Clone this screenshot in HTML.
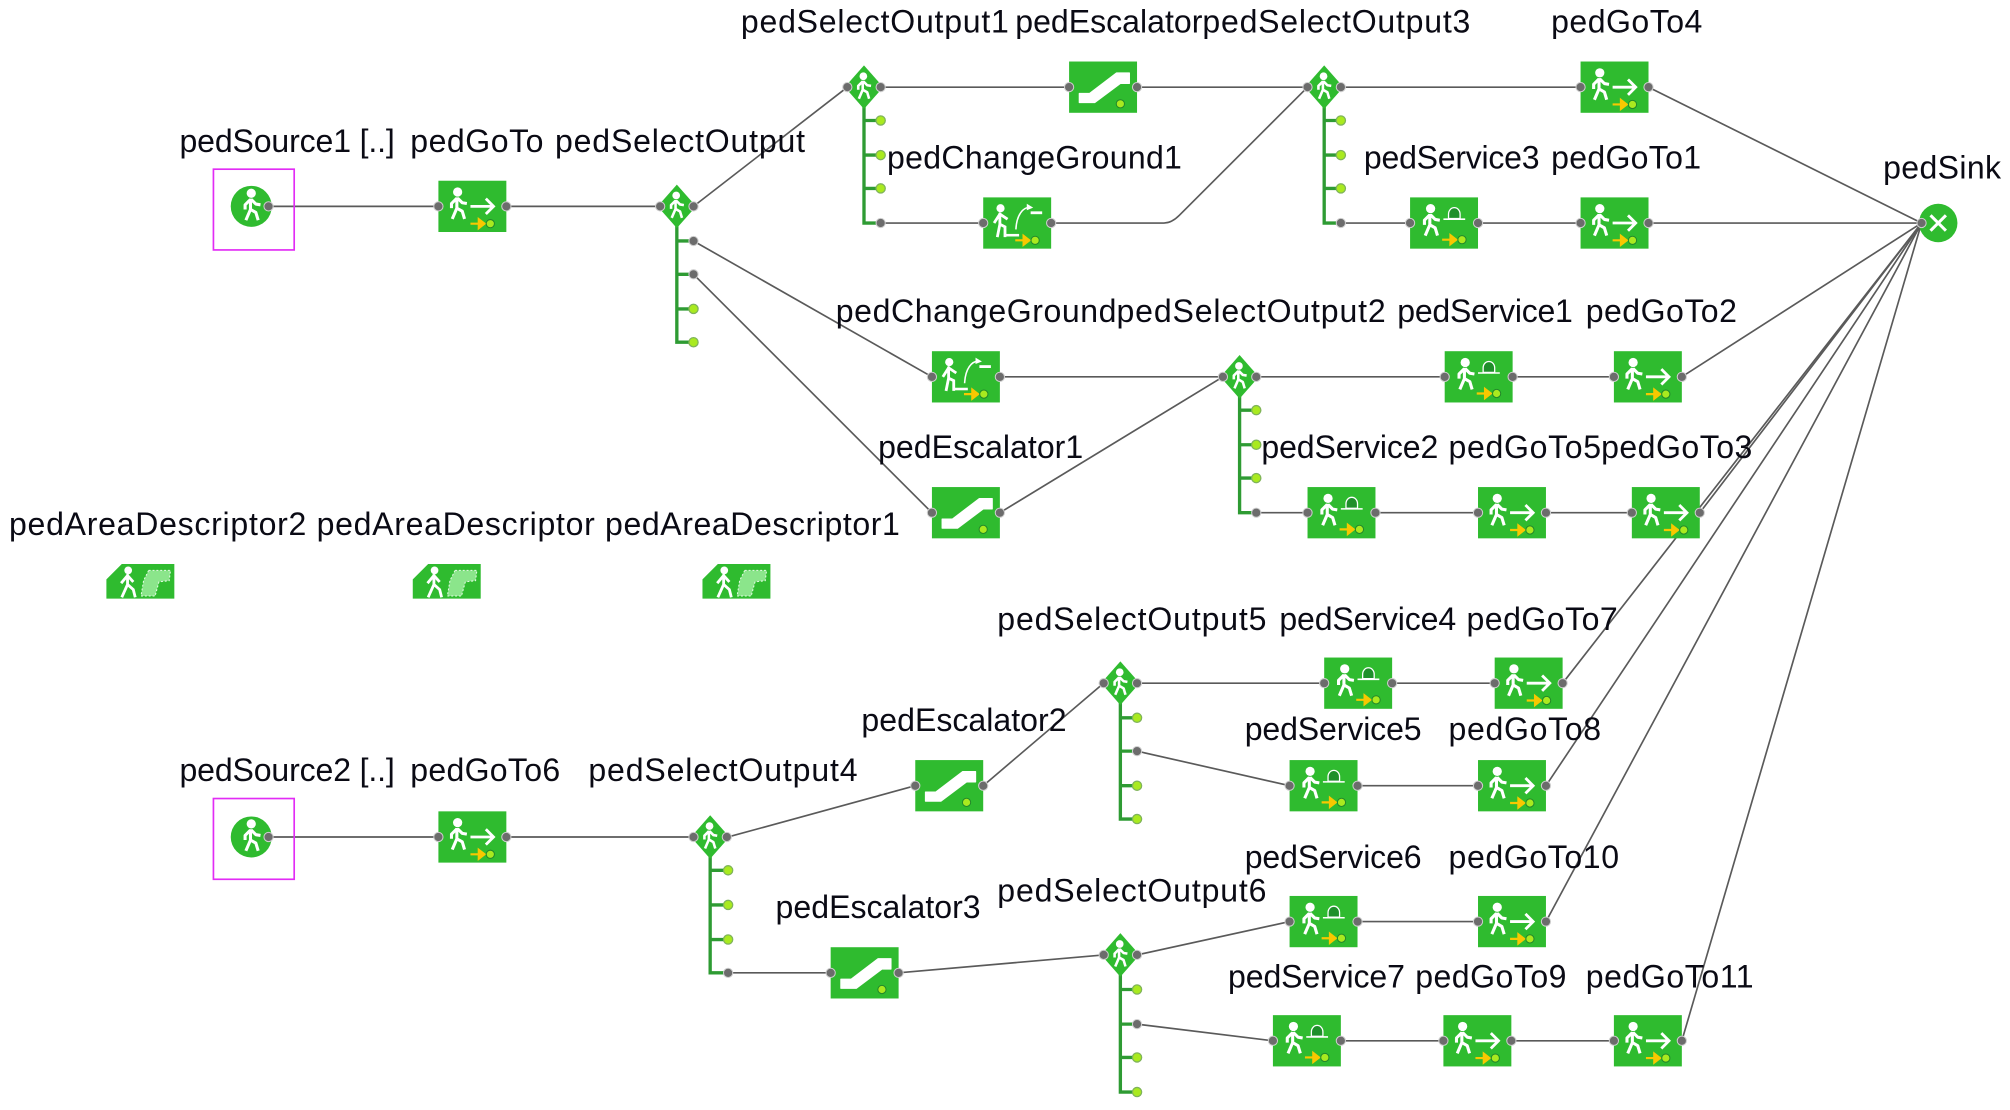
<!DOCTYPE html>
<html><head><meta charset="utf-8"><style>
html,body{margin:0;padding:0;background:#fff;width:2010px;height:1110px;overflow:hidden}
svg{display:block}
text{font-family:"Liberation Sans",sans-serif;font-size:25px;fill:#0a0a14}
.l{fill:none;stroke:#5a5a5a;stroke-width:1.3}
.s{fill:none;stroke:#2e9b33;stroke-width:2.6}
.m{fill:none;stroke:#e22cf5;stroke-width:1.3}
</style></head><body>
<svg width="2010" height="1110" viewBox="0 0 1568 866" preserveAspectRatio="none" xmlns="http://www.w3.org/2000/svg">
<defs>
<g id="person"><circle cx="0" cy="-8.5" r="3" fill="#fff"/><path d="M-.5-5 L-.5 2 L-3.5 9 M-.5 2 L3 4 L4.500 9 M-.5-4.5 L-4-1 L-4 2 M0-4.5 L3-1.5 L6-1" fill="none" stroke="#fff" stroke-width="2" stroke-linejoin="round"/></g>
<circle id="pg" r="3.6" fill="#6c6c6c" stroke="#cfcfcf" stroke-width=".8"/>
<circle id="po" r="3.6" fill="#a9ea1f" stroke="#7fb35a" stroke-width="1"/>
<g id="yel"><path d="M0 0 H10 M6.5-3.5 L11 0 L6.5 3.5 Z" stroke="#f8c800" stroke-width="1.700" fill="#f8c800"/><circle cx="15.500" r="3.200" fill="#a9ea1f" stroke="#22882a" stroke-width=".8"/></g>
<g id="goto"><rect width="53" height="40" fill="#2fbb2f"/><use href="#person" transform="translate(15,19) scale(1.2)"/><path d="M25 20 H43 M37 14 L43 20 L37 26" fill="none" stroke="#fff" stroke-width="2.200"/><use href="#yel" x="25" y="33.500"/><use href="#pg" x="0" y="20"/><use href="#pg" x="53" y="20"/></g>
<g id="serv"><rect width="53" height="40" fill="#2fbb2f"/><use href="#person" transform="translate(16,19) scale(1.2)"/><path d="M26 17 H43" stroke="#fff" stroke-width="1.200"/><path d="M30 16.500 V13 A4.500 5 0 0 1 39 13 V16.500 Z" fill="#1f8f2a" stroke="#fff" stroke-width="1"/><use href="#yel" x="25" y="33"/><use href="#pg" x="0" y="20"/><use href="#pg" x="53" y="20"/></g>
<g id="esc"><rect width="53" height="40" fill="#2fbb2f"/><path d="M8 25 H16 L37 9 H47 V17 H40 L20 32 H8 Z" fill="#fff" stroke="#fff" stroke-linejoin="round" stroke-width="1"/><circle cx="40" cy="33" r="3.200" fill="#a9ea1f" stroke="#22882a" stroke-width=".8"/><use href="#pg" x="0" y="20"/><use href="#pg" x="53" y="20"/></g>
<g id="chg"><rect width="53" height="40" fill="#2fbb2f"/><circle cx="13.500" cy="8.500" r="3.200" fill="#fff"/><path d="M13 12 V21 L17 23 V31 M13 21 L11 31 M8.500 20 L13 13 L19 17" fill="none" stroke="#fff" stroke-width="2.200"/><path d="M17 29.500 H28" stroke="#fff" stroke-width="2"/><path d="M25.500 25 C26 14 31 7 37 8" fill="none" stroke="#fff" stroke-width="1.200"/><path d="M34 5 L39 8 L34 10 Z" fill="#fff"/><path d="M37 12 H46" stroke="#fff" stroke-width="2.200"/><use href="#yel" x="25" y="33.500"/><use href="#pg" x="0" y="20"/><use href="#pg" x="53" y="20"/></g>
<g id="area"><path d="M0 12 L12 0 H53 V27 H0 Z" fill="#2fbb2f"/><circle cx="17" cy="5" r="3" fill="#fff"/><path d="M16.500 8 V16 L12 26 M16.500 16 L21 20 L22.500 26 M11.500 15 L16.500 9 L21 14" fill="none" stroke="#fff" stroke-width="2.200"/><path d="M33 5 H50 L49 13 L41 14 L38 25 H27 L29 13 Z" fill="#8be58b" stroke="#e6fbe6" stroke-width=".8" stroke-dasharray="1.500 1.500"/></g>
<g id="dia"><path d="M0-17 L15 0 L0 17 L-15 0 Z" fill="#2fbb2f"/><use href="#person" x="-.5" y="0"/><use href="#pg" x="-13" y="0"/><use href="#pg" x="13" y="0"/></g>
<g id="src"><circle cx="0" cy="0" r="16" fill="#2fbb2f"/><use href="#person" transform="translate(0,0) scale(1.200)"/><use href="#pg" x="13.500" y="0"/></g>
</defs>

<!-- connectors -->
<path class="l" d="M209 161H342M395 161H515M541 161L661 68M687 68H834M887 68H1020M1046 68H1233M1286 68L1499 174"/>
<path class="l" d="M687 174H767M820 174H908Q914 174 920 168L1020 68M1046 174H1100M1153 174H1233M1286 174H1499"/>
<path class="l" d="M541 188L727 294M541 214L727 400M780 294H954M980 294H1127M1180 294H1259M1312 294L1499 174M780 400L954 294M980 400H1020M1073 400H1153M1206 400H1273M1326 400L1499 174"/>
<path class="l" d="M1086 533H1166M887 533H1033M1219 533L1499 174M767 613L861 533M887 586L1006 613M1059 613H1153M1206 613L1499 174"/>
<path class="l" d="M209 653H342M395 653H541M568 653L714 613M568 759H648M701 759L861 745M887 745L1006 719M1059 719H1153M1206 719L1499 174M887 799L993 812M1046 812H1126M1179 812H1259M1312 812L1499 174"/>

<!-- stems -->
<path class="s" d="M528 175V267H541M528 188H541M528 214H541M528 241H541"/>
<path class="s" d="M674 82V174H687M674 94H687M674 121H687M674 147H687"/>
<path class="s" d="M1033 82V174H1046M1033 94H1046M1033 121H1046M1033 147H1046"/>
<path class="s" d="M967 308V400H980M967 320H980M967 347H980M967 373H980"/>
<path class="s" d="M874 547V639H887M874 560H887M874 586H887M874 613H887"/>
<path class="s" d="M554 667V759H568M554 679H568M554 706H568M554 733H568"/>
<path class="s" d="M874 759V852H887M874 772H887M874 799H887M874 825H887"/>

<!-- branch ports -->
<use href="#pg" x="541" y="188"/><use href="#pg" x="541" y="214"/><use href="#po" x="541" y="241"/><use href="#po" x="541" y="267"/>
<use href="#po" x="687" y="94"/><use href="#po" x="687" y="121"/><use href="#po" x="687" y="147"/><use href="#pg" x="687" y="174"/>
<use href="#po" x="1046" y="94"/><use href="#po" x="1046" y="121"/><use href="#po" x="1046" y="147"/><use href="#pg" x="1046" y="174"/>
<use href="#po" x="980" y="320"/><use href="#po" x="980" y="347"/><use href="#po" x="980" y="373"/><use href="#pg" x="980" y="400"/>
<use href="#po" x="887" y="560"/><use href="#pg" x="887" y="586"/><use href="#po" x="887" y="613"/><use href="#po" x="887" y="639"/>
<use href="#po" x="568" y="679"/><use href="#po" x="568" y="706"/><use href="#po" x="568" y="733"/><use href="#pg" x="568" y="759"/>
<use href="#po" x="887" y="772"/><use href="#pg" x="887" y="799"/><use href="#po" x="887" y="825"/><use href="#po" x="887" y="852"/>

<!-- sources -->
<use href="#src" x="196" y="161"/><rect class="m" x="166.500" y="132" width="63" height="63"/>
<use href="#src" x="196" y="653"/><rect class="m" x="166.500" y="623" width="63" height="63"/>

<!-- sink -->
<circle cx="1512" cy="174" r="15" fill="#2fbb2f"/><path d="M1506 168L1518 180M1518 168L1506 180" stroke="#fff" stroke-width="2.400"/><use href="#pg" x="1499" y="174"/>

<!-- diamonds -->
<use href="#dia" x="528" y="161"/><use href="#dia" x="674" y="68"/><use href="#dia" x="1033" y="68"/><use href="#dia" x="967" y="294"/><use href="#dia" x="874" y="533"/><use href="#dia" x="554" y="653"/><use href="#dia" x="874" y="745"/>

<!-- blocks -->
<use href="#goto" x="342" y="141"/><use href="#esc" x="834" y="48"/><use href="#goto" x="1233" y="48"/><use href="#chg" x="767" y="154"/><use href="#serv" x="1100" y="154"/><use href="#goto" x="1233" y="154"/>
<use href="#chg" x="727" y="274"/><use href="#serv" x="1127" y="274"/><use href="#goto" x="1259" y="274"/><use href="#esc" x="727" y="380"/><use href="#serv" x="1020" y="380"/><use href="#goto" x="1153" y="380"/><use href="#goto" x="1273" y="380"/>
<use href="#area" x="83" y="440"/><use href="#area" x="322" y="440"/><use href="#area" x="548" y="440"/>
<use href="#serv" x="1033" y="513"/><use href="#goto" x="1166" y="513"/><use href="#esc" x="714" y="593"/><use href="#serv" x="1006" y="593"/><use href="#goto" x="1153" y="593"/>
<use href="#goto" x="342" y="633"/><use href="#serv" x="1006" y="699"/><use href="#goto" x="1153" y="699"/><use href="#esc" x="648" y="739"/><use href="#serv" x="993" y="792"/><use href="#goto" x="1126" y="792"/><use href="#goto" x="1259" y="792"/>

<!-- labels -->
<g transform="translate(0,-.6)">
<text x="578" y="26" textLength="209">pedSelectOutput1</text>
<text x="792" y="26" textLength="146">pedEscalator</text>
<text x="938" y="26" textLength="209">pedSelectOutput3</text>
<text x="1210" y="26" textLength="118">pedGoTo4</text>
<text x="140" y="119" textLength="168">pedSource1 [..]</text>
<text x="320" y="119" textLength="104">pedGoTo</text>
<text x="433" y="119" textLength="195">pedSelectOutput</text>
<text x="692" y="132" textLength="230">pedChangeGround1</text>
<text x="1064" y="132" textLength="137">pedService3</text>
<text x="1210" y="132" textLength="117">pedGoTo1</text>
<text x="1469" y="140" textLength="92">pedSink</text>
<text x="652" y="252" textLength="219">pedChangeGround</text>
<text x="871" y="252" textLength="210">pedSelectOutput2</text>
<text x="1090" y="252" textLength="137">pedService1</text>
<text x="1237" y="252" textLength="118">pedGoTo2</text>
<text x="685" y="358" textLength="160">pedEscalator1</text>
<text x="984" y="358" textLength="138">pedService2</text>
<text x="1130" y="358" textLength="119">pedGoTo5</text>
<text x="1249" y="358" textLength="118">pedGoTo3</text>
<text x="7" y="418" textLength="232">pedAreaDescriptor2</text>
<text x="247" y="418" textLength="217">pedAreaDescriptor</text>
<text x="472" y="418" textLength="230">pedAreaDescriptor1</text>
<text x="778" y="492" textLength="210">pedSelectOutput5</text>
<text x="998" y="492" textLength="138">pedService4</text>
<text x="1144" y="492" textLength="118">pedGoTo7</text>
<text x="672" y="571" textLength="160">pedEscalator2</text>
<text x="971" y="578" textLength="138">pedService5</text>
<text x="1130" y="578" textLength="119">pedGoTo8</text>
<text x="140" y="610" textLength="168">pedSource2 [..]</text>
<text x="320" y="610" textLength="117">pedGoTo6</text>
<text x="459" y="610" textLength="210">pedSelectOutput4</text>
<text x="971" y="678" textLength="138">pedService6</text>
<text x="1130" y="678" textLength="133">pedGoTo10</text>
<text x="778" y="704" textLength="210">pedSelectOutput6</text>
<text x="605" y="717" textLength="160">pedEscalator3</text>
<text x="958" y="771" textLength="138">pedService7</text>
<text x="1104" y="771" textLength="118">pedGoTo9</text>
<text x="1237" y="771" textLength="131">pedGoTo11</text>
</g>
</svg>
</body></html>
